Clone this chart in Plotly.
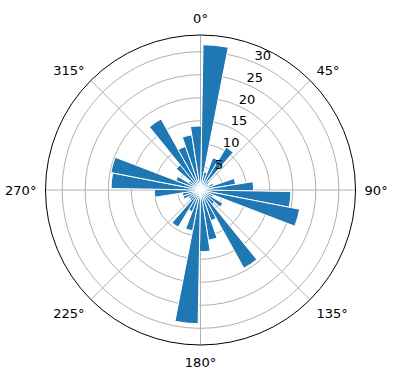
import plotly.graph_objects as go

# bar centres (degrees, clockwise from north) and bar lengths
directions = [6 + 10 * k for k in range(36)]
counts = [31.5, 4, 7.5, 10.8, 2.5, 2, 3, 7.7, 11.5, 19.6,
          21.9, 3, 5.6, 4, 19.4, 7, 11, 13.4, 29, 9,
          5, 9.4, 3, 3, 4, 4, 10, 19.4, 19.8, 5.7,
          3, 7, 17.6, 10, 12.1, 13.9]
bar_width = 10
angle_ticks = [0, 45, 90, 135, 180, 225, 270, 315]
angle_labels = [f"{a}°" for a in angle_ticks]
radial_ticks = [5, 10, 15, 20, 25, 30]
radial_labels = [f"{v}<br> " for v in radial_ticks]
r_max = 33.6

fig = go.Figure(go.Barpolar(
    theta=directions, r=counts, width=[bar_width] * len(directions),
    marker=dict(color="#1f77b4", line=dict(color="white", width=1)),
    opacity=1,
))

W, H = 396, 380
cx, cy, R = 200.5, 190, 155
fig.update_layout(
    width=W, height=H, margin=dict(l=0, r=0, t=0, b=0),
    paper_bgcolor="white", showlegend=False,
    font=dict(family="DejaVu Sans", size=13, color="black"),
    polar=dict(
        domain=dict(x=[(cx - R) / W, (cx + R) / W], y=[(H - cy - R) / H, (H - cy + R) / H]),
        bgcolor="white",
        bargap=0,
        angularaxis=dict(direction="clockwise", rotation=90,
                         tickmode="array", tickvals=angle_ticks, ticktext=angle_labels,
                         showline=True, linecolor="black", linewidth=1,
                         gridcolor="#b0b0b0", gridwidth=1,
                         ticks="outside", ticklen=6, tickcolor="rgba(0,0,0,0)",
                         layer="above traces"),
        radialaxis=dict(range=[0, r_max], tickmode="array", tickvals=radial_ticks,
                        ticktext=radial_labels,
                        angle=70, tickangle=70, showline=False, ticks="",
                        gridcolor="#b0b0b0", gridwidth=1,
                        layer="above traces"),
    ),
)
fig.write_html("out.html")
